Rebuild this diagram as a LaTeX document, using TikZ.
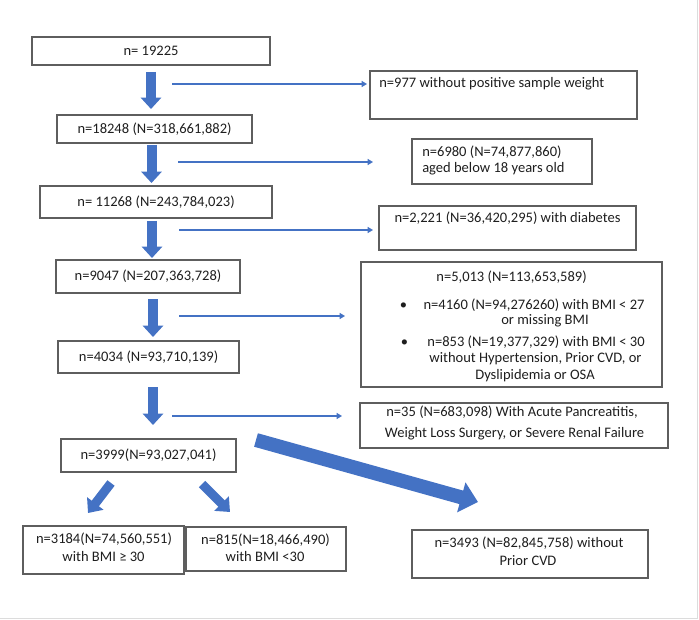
\documentclass[tikz,border=0pt]{standalone}
\usepackage{fontspec}
\setmainfont{Carlito}
\usetikzlibrary{arrows.meta}
\definecolor{ablue}{HTML}{4472C4}
\definecolor{bgray}{HTML}{5E5E5E}
\definecolor{tgray}{HTML}{1E1E1E}
\definecolor{fgray}{HTML}{DCDCDC}
\newcommand\mybox[6]{\node[box, minimum width={(#4-#2)*0.75pt}, minimum height={(#5-#3)*0.75pt}] (#1) at ({(#2+#4)/2},{(#3+#5)/2}) {#6};}
\begin{document}
\begin{tikzpicture}[x=0.75pt,y=-0.75pt,
  txt/.style={inner sep=0pt, text=tgray, font=\fontsize{10.9}{13}\selectfont, text height=0.85em, text depth=0.21em},
  box/.style={txt, draw=bgray, line width=1.2pt},
  bigarr/.style={draw=ablue, line width=7.5pt, -{Triangle[width=15pt,length=8.5pt]}},
  diagarr/.style={draw=ablue, line width=6.8pt, -{Triangle[width=15pt,length=9pt]}},
  hugearr/.style={draw=ablue, line width=10.5pt, -{Triangle[width=22.5pt,length=13pt]}},
  linearr/.style={draw=ablue, line width=1.6pt, -{Triangle[width=4.5pt,length=4pt]}}
]
\useasboundingbox (0,0) rectangle (699,620);
\draw[fgray, line width=1.2pt] (697.5,0) -- (697.5,618.5) -- (0,618.5);

% main column
\mybox{b1}{32}{37}{270}{65}{n= 19225}
\mybox{b2}{57}{115}{252}{143}{n=18248 (N=318,661,882)}
\mybox{b3}{40}{186}{272}{218}{n= 11268 (N=243,784,023)}
\mybox{b4}{56}{260}{240}{293}{n=9047 (N=207,363,728)}
\mybox{b5}{58}{341}{239}{373}{n=4034 (N=93,710,139)}
\mybox{b6}{61}{439}{236}{472}{n=3999(N=93,027,041)}

% exclusion boxes
\mybox{r1}{370}{71}{637}{119}{}
\mybox{r2}{412}{139}{592}{184}{}
\mybox{r3}{379}{206}{636}{250}{}
\mybox{r4}{361}{262}{662}{387}{}
\mybox{r5}{360}{403}{668}{448}{}

% bottom boxes
\mybox{c1}{23}{526}{184}{574}{}
\mybox{c2}{186}{527}{346}{571}{}
\mybox{c3}{412}{530}{648}{578}{}

% texts
\node[txt, anchor=west] (t1) at (379,83) {n=977 without positive sample weight};
\node[txt, anchor=west] (t2a) at (422,152) {n=6980 (N=74,877,860)};
\node[txt, anchor=west] (t2b) at (422,168) {aged below 18 years old};
\node[txt] (t3) at (507.5,218) {n=2,221 (N=36,420,295) with diabetes};
\node[txt] (t4) at (511.5,277) {n=5,013 (N=113,653,589)};
\node[txt] (u1) at (403.5,305) {•};
\node[txt] (t4a1) at (534,305) {n=4160 (N=94,276260) with BMI < 27};
\node[txt] (t4a2) at (545,320) {or missing BMI};
\node[txt] (u2) at (404.5,342) {•};
\node[txt] (t4b1) at (536,342) {n=853 (N=19,377,329) with BMI < 30};
\node[txt] (t4b2) at (535.5,358) {without Hypertension, Prior CVD, or};
\node[txt] (t4b3) at (535,375) {Dyslipidemia or OSA};
\node[txt] (t5a) at (512,412) {n=35 (N=683,098) With Acute Pancreatitis,};
\node[txt] (t5b) at (514.5,433) {Weight Loss Surgery, or Severe Renal Failure};
\node[txt] (tc1a) at (104,539) {n=3184(N=74,560,551)};
\node[txt] (tc1b) at (103.5,557) {with BMI ≥ 30};
\node[txt] (tc2a) at (265.5,540) {n=815(N=18,466,490)};
\node[txt] (tc2b) at (265,557) {with BMI <30};
\node[txt] (tc3a) at (529,543) {n=3493 (N=82,845,758) without};
\node[txt] (tc3b) at (528,561) {Prior CVD};

% down arrows
\coordinate (a1s) at (151,72);   \coordinate (a1e) at (151,109);
\coordinate (a2s) at (151.5,145); \coordinate (a2e) at (151.5,183);
\coordinate (a3s) at (152,221);  \coordinate (a3e) at (152,258);
\coordinate (a4s) at (153,299);  \coordinate (a4e) at (153,337);
\coordinate (a5s) at (153,387);  \coordinate (a5e) at (153,425);
\draw[bigarr] (a1s) -- (a1e);
\draw[bigarr] (a2s) -- (a2e);
\draw[bigarr] (a3s) -- (a3e);
\draw[bigarr] (a4s) -- (a4e);
\draw[bigarr] (a5s) -- (a5e);

% exclusion lines
\coordinate (l1s) at (172,84);  \coordinate (l1e) at (367,84);
\coordinate (l2s) at (178,162); \coordinate (l2e) at (373,162);
\coordinate (l3s) at (179,230); \coordinate (l3e) at (373,230);
\coordinate (l4s) at (179,316); \coordinate (l4e) at (345,316);
\coordinate (l5s) at (172,416); \coordinate (l5e) at (342,416);
\draw[linearr] (l1s) -- (l1e);
\draw[linearr] (l2s) -- (l2e);
\draw[linearr] (l3s) -- (l3e);
\draw[linearr] (l4s) -- (l4e);
\draw[linearr] (l5s) -- (l5e);

% split arrows
\coordinate (d1s) at (111,483); \coordinate (d1e) at (88,513);
\coordinate (d2s) at (202,484); \coordinate (d2e) at (230,512);
\coordinate (d3s) at (256,440); \coordinate (d3e) at (478,502);
\draw[diagarr] (d1s) -- (d1e);
\draw[diagarr] (d2s) -- (d2e);
\draw[hugearr] (d3s) -- (d3e);
\end{tikzpicture}
\end{document}
